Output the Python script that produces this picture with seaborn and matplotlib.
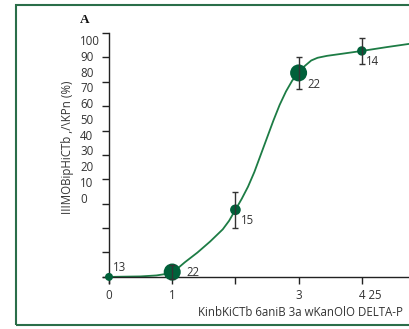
import numpy as np
import pandas as pd
import seaborn as sns
import matplotlib
matplotlib.use("Agg")
import matplotlib.pyplot as plt
from matplotlib.patches import Rectangle
from matplotlib.transforms import ScaledTranslation

# data
dist = [0, 1, 2, 3, 4]
speed = [0, 2.0, 27.5, 83.6, 92.6]
speed_err = [0, 3.0, 7.4, 6.4, 5.5]
counts = [13, 22, 15, 22, 14]

# fitted curve
curve_x = [0, 0.5, 0.75, 0.9, 1.0, 1.1, 1.2, 1.4, 1.6, 1.8, 1.9, 2.0, 2.1, 2.2, 2.3,
           2.4, 2.5, 2.6, 2.7, 2.8, 2.9, 3.0, 3.1, 3.2, 3.3, 3.45, 3.7, 4.0, 4.4, 4.75]
curve_y = [0, 0.2, 0.6, 1.2, 2.0, 3.8, 6.0, 10.0, 14.5, 19.5, 23.0, 27.5, 32.0, 37.0, 43.0,
           50.0, 57.0, 64.0, 70.5, 76.0, 80.5, 83.6, 86.5, 88.7, 89.8, 90.6, 91.5, 92.6, 94.2, 95.5]

x_ticks = [0, 1, 2, 3, 4]
x_ticklabels = ["0", "1", "", "3", "4 25"]
y_ticks = [0, 10, 20, 30, 40, 50, 60, 70, 80, 90, 100]
y_labels = ["100", "90", "80", "70", "60", "50", "40", "30", "20", "10", "0"]
y_label_pos = [97.1 - i * 6.47 for i in range(11)]

sns.set_style("white")
plt.rcParams["font.family"] = ["Open Sans", "DejaVu Sans"]

W, H = 409, 329
fig = plt.figure(figsize=(W / 100, H / 100), dpi=100)
ax = fig.add_axes([102.7 / W, 46 / H, 306.5 / W, 250.1 / H])

green = "#00613a"
line_green = "#1d7c45"
text_col = "#333333"
fs = 8.3

df = pd.DataFrame({"dist": dist, "speed": speed, "n": counts})
curve = pd.DataFrame({"x": curve_x, "y": curve_y})

sns.lineplot(data=curve, x="x", y="y", color=line_green, lw=1.3, ax=ax, clip_on=False)
ax.errorbar(dist[1:], speed[1:], yerr=speed_err[1:], fmt="none", ecolor="#333333",
            elinewidth=1, capsize=2.2, capthick=1, zorder=4)
sns.scatterplot(data=df, x="dist", y="speed", size="n", sizes=(33, 150), color=green,
                edgecolor="none", legend=False, ax=ax, zorder=3, clip_on=False)

offsets = [(11, 9), (21, 0), (12, -11), (15, -12), (11, -11)]
for xi, yi, n, off in zip(dist, speed, counts, offsets):
    ax.annotate(str(n), (xi, yi), xytext=off, textcoords="offset pixels",
                ha="center", va="center", fontsize=fs, color=text_col)

ax.set_xlim(-0.1, 4.75)
ax.set_ylim(-2.5, 100)
for s in ["top", "right"]:
    ax.spines[s].set_visible(False)
ax.spines["left"].set_position(("data", 0))
ax.spines["bottom"].set_position(("data", 0))
for s in ["left", "bottom"]:
    ax.spines[s].set_color("#222222")
    ax.spines[s].set_linewidth(1)

ax.set_xticks(x_ticks)
ax.set_xticklabels(x_ticklabels)
ax.tick_params(axis="x", direction="out", length=5, width=1, color="#222222",
               labelsize=fs, labelcolor=text_col, pad=4, bottom=True)
lab = ax.get_xticklabels()[-1]
lab.set_transform(lab.get_transform() + ScaledTranslation(8 / 100, 0, fig.dpi_scale_trans))

ax.set_yticks(y_ticks)
ax.set_yticklabels([])
ax.tick_params(axis="y", which="major", direction="out", length=5, width=1,
               color="#222222", left=True)
ax.set_yticks(y_label_pos, minor=True)
ax.set_yticklabels(y_labels, minor=True)
ax.tick_params(axis="y", which="minor", length=0, labelsize=fs, labelcolor=text_col,
               pad=29 * 0.72, left=True)
for t in ax.get_yticklabels(minor=True):
    t.set_horizontalalignment("left")

ax.set_xlabel("")
ax.set_ylabel("")
fig.text(403 / W, 1 - 312 / H, "KinbKiCTb 6aniB 3a wKanOlO DELTA-P", ha="right",
         va="center", fontsize=fs, color=text_col)
fig.text(67 / W, 1 - 147 / H, "IIIMOBipHiCTb ,/\\KPn (%)", rotation=90, ha="center",
         va="center", fontsize=fs, color=text_col)
fig.text(85 / W, 1 - 20 / H, "A", family="Liberation Serif", fontweight="bold",
         fontsize=9.5, ha="center", va="center", color="#111111")

fig.patches.append(Rectangle((16 / W, 1 - 325 / H), 420 / W, 320 / H, fill=False,
                             edgecolor="#2a6e49", lw=1.5, transform=fig.transFigure))

fig.savefig("out.png", dpi=100)
